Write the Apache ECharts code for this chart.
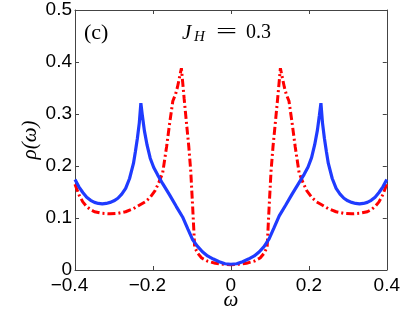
<!DOCTYPE html>
<html>
<head>
<meta charset="utf-8">
<script src="https://cdn.jsdelivr.net/npm/echarts@6/dist/echarts.min.js"></script>
<style>
  html, body { margin: 0; padding: 0; background: #fff; }
  #chart { width: 403px; height: 330px; }
</style>
</head>
<body>
<div id="chart"></div>
<script>
// blue solid curve
var omegaBlue = [-0.40,-0.39,-0.38,-0.37,-0.36,-0.35,-0.34,-0.33,-0.32,-0.31,-0.30,-0.29,-0.28,-0.27,-0.26,-0.25,
  -0.245,-0.24,-0.235,-0.231,-0.227,-0.222,-0.215,-0.207,-0.198,-0.188,-0.175,-0.157,-0.14,-0.124,-0.11,-0.098,-0.085,-0.073,-0.06,-0.045,-0.03,-0.015,0,
  0.015,0.03,0.045,0.06,0.073,0.085,0.098,0.11,0.124,0.14,0.157,0.175,0.188,0.198,0.207,0.215,0.222,0.227,0.231,
  0.235,0.24,0.245,0.25,0.26,0.27,0.28,0.29,0.30,0.31,0.32,0.33,0.34,0.35,0.36,0.37,0.38,0.39,0.40];
var rhoBlue = [0.174,0.160,0.149,0.140,0.134,0.130,0.128,0.127,0.128,0.130,0.133,0.138,0.146,0.157,0.176,0.205,
  0.228,0.253,0.283,0.321,0.296,0.268,0.240,0.215,0.197,0.183,0.166,0.144,0.122,0.102,0.078,0.058,0.045,0.035,0.027,0.021,0.016,0.012,0.011,
  0.012,0.016,0.021,0.027,0.035,0.045,0.060,0.080,0.104,0.124,0.146,0.168,0.184,0.198,0.216,0.241,0.269,0.297,0.321,
  0.283,0.253,0.228,0.205,0.176,0.157,0.146,0.138,0.133,0.130,0.128,0.127,0.128,0.130,0.134,0.140,0.149,0.160,0.174];

// red dash-dot curve
var omegaRed = [-0.40,-0.39,-0.38,-0.37,-0.36,-0.35,-0.33,-0.31,-0.29,-0.27,-0.25,
  -0.234,-0.22,-0.208,-0.195,-0.185,-0.175,-0.165,-0.157,-0.149,-0.142,-0.137,-0.127,
  -0.12,-0.114,-0.108,-0.103,-0.098,-0.093,-0.085,-0.075,-0.06,-0.04,-0.02,0,
  0.02,0.04,0.06,0.075,0.085,0.093,0.098,0.103,0.108,0.114,0.12,0.127,
  0.137,0.142,0.149,0.157,0.165,0.175,0.185,0.195,0.208,0.22,0.234,
  0.25,0.27,0.29,0.31,0.33,0.35,0.36,0.37,0.38,0.39,0.40];
var rhoRed = [0.165,0.145,0.131,0.122,0.116,0.112,0.109,0.108,0.109,0.112,0.118,
  0.125,0.131,0.139,0.152,0.168,0.187,0.237,0.283,0.325,0.338,0.352,0.388,
  0.330,0.283,0.237,0.190,0.120,0.044,0.032,0.023,0.017,0.013,0.011,0.010,
  0.011,0.013,0.017,0.023,0.032,0.044,0.120,0.190,0.237,0.283,0.330,0.388,
  0.352,0.338,0.325,0.283,0.237,0.187,0.168,0.152,0.139,0.131,0.125,
  0.118,0.112,0.109,0.108,0.109,0.112,0.116,0.122,0.131,0.145,0.165];

var xTicks = [-0.4, -0.2, 0, 0.2, 0.4];
var yTicks = [0, 0.1, 0.2, 0.3, 0.4, 0.5];

function pairs(xs, ys) {
  return xs.map(function (x, i) { return [x, ys[i]]; });
}

var axisColor = '#444';
var tickFont = 'Liberation Sans, Arial, sans-serif';
var serif = 'Liberation Serif, Times New Roman, serif';

var chart = echarts.init(document.getElementById('chart'), null, {renderer: 'canvas'});

var option = {
  animation: false,
  backgroundColor: '#fff',
  grid: {left: 75, right: 15, top: 10, bottom: 60},
  xAxis: [
    {
      type: 'value', min: -0.4, max: 0.4, interval: 0.2,
      name: 'ω', nameLocation: 'middle', nameGap: 20, nameMoveOverlap: false,
      nameTextStyle: {fontFamily: serif, fontStyle: 'italic', fontSize: 21, color: '#000'},
      axisLine: {onZero: false, lineStyle: {color: axisColor, width: 1}},
      axisTick: {inside: true, length: 4, lineStyle: {color: axisColor}},
      splitLine: {show: false},
      axisLabel: {
        margin: 6, fontSize: 19, fontFamily: tickFont, color: '#000',
        formatter: function (v) {
          var s = Math.abs(v) < 1e-9 ? '0' : Math.abs(v).toFixed(1);
          return v < -1e-9 ? '−' + s + '{h|−}' : s;
        },
        rich: {h: {fontSize: 19, fontFamily: tickFont, color: 'rgba(0,0,0,0)'}}
      }
    },
    {
      type: 'value', position: 'top', min: -0.4, max: 0.4, interval: 0.2,
      axisLine: {onZero: false, lineStyle: {color: axisColor, width: 1}},
      axisTick: {inside: true, length: 4, lineStyle: {color: axisColor}},
      axisLabel: {show: false},
      splitLine: {show: false}
    }
  ],
  yAxis: [
    {
      type: 'value', min: 0, max: 0.5, interval: 0.1,
      name: 'ρ(ω)', nameLocation: 'middle', nameGap: 34, nameRotate: 90, nameMoveOverlap: false,
      nameTextStyle: {fontFamily: serif, fontStyle: 'italic', fontSize: 21, color: '#000'},
      axisLine: {onZero: false, lineStyle: {color: axisColor, width: 1}},
      axisTick: {inside: true, length: 4, lineStyle: {color: axisColor}},
      splitLine: {show: false},
      axisLabel: {
        margin: 3, fontSize: 19, fontFamily: tickFont, color: '#000',
        formatter: function (v) { return Math.abs(v) < 1e-9 ? '0' : v.toFixed(1); }
      }
    },
    {
      type: 'value', position: 'right', min: 0, max: 0.5, interval: 0.1,
      axisLine: {onZero: false, lineStyle: {color: axisColor, width: 1}},
      axisTick: {inside: true, length: 4, lineStyle: {color: axisColor}},
      axisLabel: {show: false},
      splitLine: {show: false}
    }
  ],
  series: [
    {
      type: 'line', data: pairs(omegaBlue, rhoBlue),
      showSymbol: false, symbol: 'none',
      lineStyle: {color: '#1f3bff', width: 3.2, type: 'solid'},
      z: 3
    },
    {
      type: 'line', data: pairs(omegaRed, rhoRed),
      showSymbol: false, symbol: 'none',
      lineStyle: {color: '#ff0000', width: 3, type: [8, 3, 2, 3], cap: 'butt'},
      z: 2
    }
  ],
  graphic: [
    {type: 'text', left: 84, top: 22,
      style: {text: '(c)', font: '22px ' + serif, fill: '#000'}},
    {type: 'text', left: 182, top: 23,
      style: {text: 'J', font: 'italic 21px ' + serif, fill: '#000'}},
    {type: 'text', left: 194, top: 30,
      style: {text: 'H', font: 'italic 15px ' + serif, fill: '#000'}},
    {type: 'text', left: 216, top: 21, scaleX: 1.7,
      style: {text: '=', font: '22px ' + serif, fill: '#000'}},
    {type: 'text', left: 246, top: 23,
      style: {text: '0.3', font: '20px ' + serif, fill: '#000'}}
  ]
};

chart.setOption(option);
</script>
</body>
</html>
